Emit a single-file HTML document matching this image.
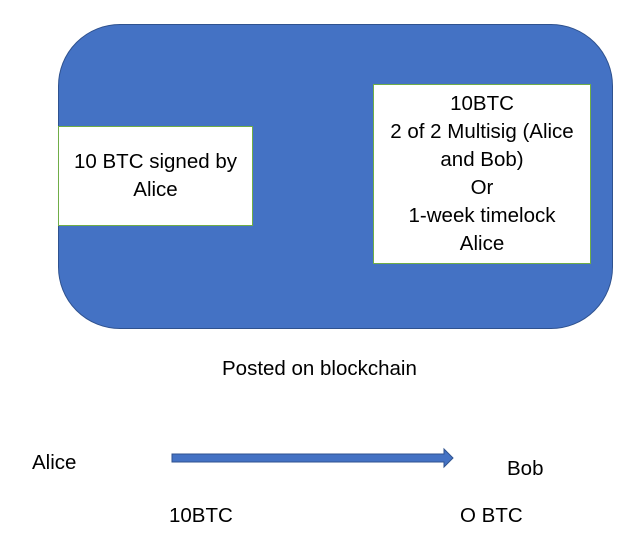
<!DOCTYPE html>
<html><head><style>
body{margin:0;width:641px;height:545px;background:#fff;position:relative;overflow:hidden;font-family:"Liberation Sans",sans-serif;color:#000}
.big{position:absolute;left:58px;top:24px;width:555px;height:305px;background:#4472c4;border:1px solid #2f528f;box-sizing:border-box;border-radius:62px}
.box{position:absolute;background:#fff;border:1px solid #70ad47;box-sizing:border-box;display:flex;align-items:center;justify-content:center;text-align:center;font-size:20.5px;line-height:28px}
.t{position:absolute;font-size:20.5px;white-space:nowrap;line-height:24px}
</style></head><body>
<div class="big"></div>
<div class="box" style="left:58px;top:126px;width:195px;height:100px">10 BTC signed by<br>Alice</div>
<div class="box" style="left:373px;top:84px;width:218px;height:180px">10BTC<br>2 of 2 Multisig (Alice<br>and Bob)<br>Or<br>1-week timelock<br>Alice</div>
<div class="t" style="left:222px;top:357px">Posted on blockchain</div>
<div class="t" style="left:32px;top:451px">Alice</div>
<div class="t" style="left:507px;top:457px">Bob</div>
<div class="t" style="left:169px;top:504px">10BTC</div>
<div class="t" style="left:460px;top:504px">O BTC</div>
<svg style="position:absolute;left:0;top:0" width="641" height="545">
<polygon points="172,454 444,454 444,449 453,458 444,467 444,462 172,462" fill="#4472c4" stroke="#2f528f" stroke-width="1"/>
</svg>
</body></html>
